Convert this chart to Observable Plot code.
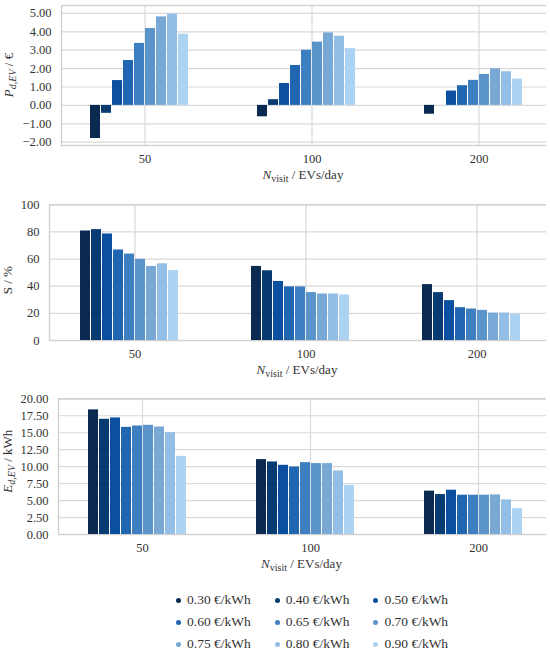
<!DOCTYPE html>
<html><head><meta charset="utf-8">
<script src="https://cdn.jsdelivr.net/npm/d3@7"></script>
<script src="https://cdn.jsdelivr.net/npm/@observablehq/plot@0.6"></script>
<style>
body{margin:0;background:#fff;font-family:"Liberation Serif","Times New Roman","DejaVu Serif",serif;color:#333;}
#chart{width:550px;}
#chart svg{display:block;overflow:hidden;}
#chart svg text{font-family:"Liberation Serif","Times New Roman","DejaVu Serif",serif;}
.legend{display:grid;grid-template-columns:repeat(3,98.7px);margin-left:176px;margin-top:17px;line-height:22px;font-size:13.5px;color:#333;}
.item{display:flex;align-items:center;white-space:nowrap;}
.dot{width:5px;height:5px;border-radius:50%;margin-right:6px;flex:none;}
</style></head><body><div id="chart"></div>
<script>
const groups = ["50", "100", "200"];
const prices = ["0.30", "0.40", "0.50", "0.60", "0.65", "0.70", "0.75", "0.80", "0.90"];
const colors = ["#0b2a52", "#073b71", "#0b50a0", "#2166b0", "#3e7fc1", "#5b93cb", "#78a8d6", "#93bee6", "#add3f2"];

const profit50 = [-1.80, -0.43, 1.35, 2.44, 3.37, 4.18, 4.81, 4.96, 3.87];
const profit100 = [-0.62, 0.31, 1.19, 2.17, 3.00, 3.44, 3.94, 3.76, 3.09];
const profit200 = [-0.48, 0.00, 0.78, 1.07, 1.36, 1.68, 1.99, 1.83, 1.43];

const share50 = [80.7, 81.7, 78.5, 66.7, 63.7, 59.8, 54.6, 56.5, 51.6];
const share100 = [54.6, 51.4, 43.5, 39.5, 39.5, 35.3, 34.3, 34.3, 33.6];
const share200 = [41.2, 35.3, 29.4, 24.2, 23.2, 22.2, 20.2, 20.2, 19.3];

const energy50 = [18.37, 16.98, 17.18, 15.79, 15.99, 16.09, 15.84, 15.00, 11.53];
const energy100 = [11.04, 10.69, 10.20, 9.95, 10.59, 10.45, 10.45, 9.36, 7.23];
const energy200 = [6.39, 5.89, 6.53, 5.79, 5.79, 5.79, 5.84, 5.10, 3.81];

const profitTicks = [-2, -1, 0, 1, 2, 3, 4, 5];
const shareTicks = [0, 20, 40, 60, 80, 100];
const energyTicks = [0, 2.5, 5, 7.5, 10, 12.5, 15, 17.5, 20];

function table(series) {
  const rows = [];
  groups.forEach((g, gi) => series[gi].forEach((v, i) => rows.push({group: g, price: prices[i], value: v})));
  return rows;
}

const W = 546, MR = 1;
const grid = "#d9d9d9";
const FONT = '"Liberation Serif","Times New Roman","DejaVu Serif",serif';

function panel(o) {
  const svg = Plot.plot({
    width: W, height: o.height,
    marginTop: o.mt, marginBottom: o.mb, marginLeft: o.ml, marginRight: MR,
    style: {fontFamily: FONT, fontSize: "12.5px", color: "#333", background: "#fff"},
    fx: {domain: groups, range: [o.ml, o.ml + 3 * o.step], padding: 0, label: null},
    x: {domain: [...prices, ""], paddingInner: 0.12, paddingOuter: 2.25, axis: null},
    y: {domain: o.yDomain, label: null},
    color: {domain: prices, range: colors},
    marks: [
      Plot.gridY(o.ticks, {stroke: grid, strokeOpacity: 1, strokeWidth: 1.2}),
      Plot.gridFx({stroke: grid, strokeOpacity: 1, strokeWidth: 1.2}),
      Plot.frame({facet: "super", stroke: "#d0d0d0", strokeWidth: 1.4}),
      Plot.barY(o.rows, {fx: "group", x: "price", y: "value", fill: "price"}),
      Plot.axisY(o.ticks, {anchor: "left", tickSize: 0, tickPadding: 10, tickFormat: o.fmt, label: null}),
      Plot.axisFx({anchor: "bottom", tickSize: 0, tickPadding: 9, label: null})
    ]
  });
  const s = d3.select(svg);
  const fb = o.height - o.mb;
  const xl = s.append("text").attr("x", (o.ml + W - MR) / 2).attr("y", fb + 34)
    .attr("text-anchor", "middle").attr("font-size", "13px").attr("fill", "#333");
  xl.append("tspan").attr("font-style", "italic").text("N");
  xl.append("tspan").attr("dy", 3).attr("font-size", "10px").text("visit");
  xl.append("tspan").attr("dy", -3).text(" / EVs/day");
  const yc = o.mt + (fb - o.mt) / 2 + (o.yShift || 0);
  const yl = s.append("text").attr("transform", `translate(${o.yx},${yc}) rotate(-90)`)
    .attr("text-anchor", "middle").attr("font-size", "13px").attr("fill", "#333");
  o.ylabel(yl);
  return svg;
}

const chart = document.getElementById("chart");
const fmt2 = d => d.toFixed(2).replace("-", "\u2212");

chart.appendChild(panel({
  rows: table([profit50, profit100, profit200]), ticks: profitTicks, yDomain: [-2.18, 5.43], fmt: fmt2,
  height: 195, mt: 5, mb: 50, ml: 61, step: 167, yx: 13,
  ylabel: t => {
    t.append("tspan").attr("font-style", "italic").text("P");
    t.append("tspan").attr("dy", 3).attr("font-size", "10px").attr("font-style", "italic").text("d,EV");
    t.append("tspan").attr("dy", -3).text(" / \u20ac");
  }
}));

chart.appendChild(panel({
  rows: table([share50, share100, share200]), ticks: shareTicks, yDomain: [0, 100], fmt: d => String(d),
  height: 190, mt: 9.3, mb: 45, ml: 49, step: 171, yx: 12, yShift: 8,
  ylabel: t => { t.text("S / %"); }
}));

chart.appendChild(panel({
  rows: table([energy50, energy100, energy200]), ticks: energyTicks, yDomain: [0, 20], fmt: fmt2,
  height: 187, mt: 13.3, mb: 38, ml: 58, step: 168, yx: 12, yShift: -5,
  ylabel: t => {
    t.append("tspan").attr("font-style", "italic").text("E");
    t.append("tspan").attr("dy", 3).attr("font-size", "10px").attr("font-style", "italic").text("d,EV");
    t.append("tspan").attr("dy", -3).text(" / kWh");
  }
}));

const legend = document.createElement("div");
legend.className = "legend";
prices.forEach((p, i) => {
  const item = document.createElement("div");
  item.className = "item";
  const dot = document.createElement("span");
  dot.className = "dot";
  dot.style.background = colors[i];
  const label = document.createElement("span");
  label.textContent = `${p} \u20ac/kWh`;
  item.appendChild(dot); item.appendChild(label);
  legend.appendChild(item);
});
chart.appendChild(legend);
</script></body></html>
